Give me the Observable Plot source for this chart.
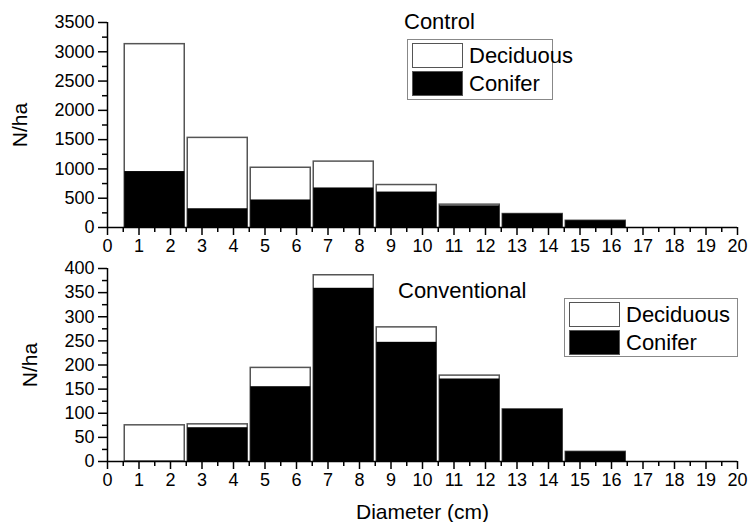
<!DOCTYPE html>
<html><head><meta charset="utf-8">
<script src="https://cdn.jsdelivr.net/npm/d3@7"></script>
<script src="https://cdn.jsdelivr.net/npm/@observablehq/plot@0.6"></script>
<style>
body{margin:0;background:#fff;font-family:"Liberation Sans",Arial,sans-serif;}
#wrap{position:relative;width:748px;height:522px;overflow:hidden;}
#wrap svg{display:block;}
.ptitle{position:absolute;font-size:22px;line-height:1;color:#000;white-space:nowrap;}
.legend{position:absolute;border:1px solid #888;background:#fff;box-sizing:border-box;}
.row{position:absolute;left:4px;display:flex;align-items:center;font-size:22px;line-height:1;white-space:nowrap;}
.sw{width:51px;height:25px;box-sizing:border-box;border:1.5px solid #555;margin-right:6px;}
</style></head><body><div id="wrap"></div><script>
// Diameter classes (cm)
const binLow = [0.5, 2.5, 4.5, 6.5, 8.5, 10.5, 12.5, 14.5];
const binHigh = [2.5, 4.5, 6.5, 8.5, 10.5, 12.5, 14.5, 16.5];
// Control: total (deciduous + conifer) and conifer, N/ha
const controlTotal = [3130, 1530, 1020, 1125, 725, 390, 230, 115];
const controlConifer = [955, 320, 470, 675, 605, 370, 230, 115];
// Conventional
const convTotal = [75, 77, 194, 386, 278, 178, 108, 20];
const convConifer = [0, 70, 155, 359, 247, 171, 108, 20];
// Ticks
const xTicks = [0,1,2,3,4,5,6,7,8,9,10,11,12,13,14,15,16,17,18,19,20];
const xMinorTicks = [0.5,1.5,2.5,3.5,4.5,5.5,6.5,7.5,8.5,9.5,10.5,11.5,12.5,13.5,14.5,15.5,16.5,17.5,18.5,19.5];
const controlYTicks = [0,500,1000,1500,2000,2500,3000,3500];
const controlYMinor = [250,750,1250,1750,2250,2750,3250];
const convYTicks = [0,50,100,150,200,250,300,350,400];
const convYMinor = [25,75,125,175,225,275,325,375];
const legendLabels = ["Deciduous", "Conifer"];

function rows(total, conifer) {
  return binLow.map((lo, i) => ({lo, hi: binHigh[i], total: total[i], conifer: conifer[i]}));
}

function panel({data, yDomain, yTicks, yMinor, height, marginTop, marginBottom, yLabelOffset, xLabel}) {
  const marks = [
    Plot.rect(data, {x1: "lo", x2: "hi", y1: 0, y2: "total", fill: "white", stroke: "#555", strokeWidth: 1.5, insetLeft: 1.5, insetRight: 1.5}),
    Plot.rect(data, {x1: "lo", x2: "hi", y1: 0, y2: "conifer", fill: "black", insetLeft: 1.5, insetRight: 1.5}),
    Plot.ruleY([yDomain[0]], {stroke: "black", strokeWidth: 1.5}),
    Plot.ruleX([0], {stroke: "black", strokeWidth: 1.5}),
    Plot.axisX({ticks: xTicks, tickSize: 8, tickPadding: 4, tickFormat: d => String(d), strokeWidth: 1.5, fontSize: 18, label: null}),
    Plot.axisX({ticks: xMinorTicks, tickSize: 5, tickFormat: () => "", strokeWidth: 1.5, label: null}),
    Plot.axisY({ticks: yTicks, tickSize: 9, tickPadding: 4, tickFormat: d => String(d), strokeWidth: 1.5, fontSize: 18, label: null}),
    Plot.axisY({ticks: yMinor, tickSize: 5, tickFormat: () => "", strokeWidth: 1.5, label: null}),
    Plot.axisY({ticks: [], tickSize: 0, fontSize: 21, label: "N/ha", labelAnchor: "center", labelArrow: "none", labelOffset: yLabelOffset})
  ];
  if (xLabel) marks.push(Plot.axisX({ticks: [], tickSize: 0, fontSize: 21, label: xLabel, labelAnchor: "center", labelArrow: "none", labelOffset: 57}));
  return Plot.plot({
    width: 748, height, marginLeft: 107, marginRight: 11, marginTop, marginBottom,
    x: {domain: [0, 20]},
    y: {domain: yDomain},
    style: {fontFamily: '"Liberation Sans", Arial, sans-serif', fontSize: "18px", color: "#000", background: "#fff"},
    marks
  });
}

const wrap = document.getElementById("wrap");
wrap.appendChild(panel({data: rows(controlTotal, controlConifer), yDomain: [0, 3500], yTicks: controlYTicks, yMinor: controlYMinor,
  height: 255, marginTop: 22, marginBottom: 28, yLabelOffset: 95, xLabel: null}));
wrap.appendChild(panel({data: rows(convTotal, convConifer), yDomain: [0, 400], yTicks: convYTicks, yMinor: convYMinor,
  height: 267, marginTop: 13, marginBottom: 61, yLabelOffset: 85, xLabel: "Diameter (cm)"}));

function addTitle(text, left, top) {
  const d = document.createElement("div");
  d.className = "ptitle"; d.textContent = text;
  d.style.left = left + "px"; d.style.top = top + "px";
  wrap.appendChild(d);
}
function addLegend(left, top, width, height) {
  const box = document.createElement("div");
  box.className = "legend";
  Object.assign(box.style, {left: left + "px", top: top + "px", width: width + "px", height: height + "px"});
  legendLabels.forEach((lab, i) => {
    const r = document.createElement("div");
    r.className = "row"; r.style.top = (3 + i * 28) + "px";
    const sw = document.createElement("div");
    sw.className = "sw"; sw.style.background = i === 0 ? "#fff" : "#000";
    const t = document.createElement("span"); t.textContent = lab;
    r.appendChild(sw); r.appendChild(t); box.appendChild(r);
  });
  wrap.appendChild(box);
}
addTitle("Control", 404, 11);
addLegend(407, 39, 146, 61);
addTitle("Conventional", 398, 280);
addLegend(564, 298, 174, 59);
</script></body></html>
